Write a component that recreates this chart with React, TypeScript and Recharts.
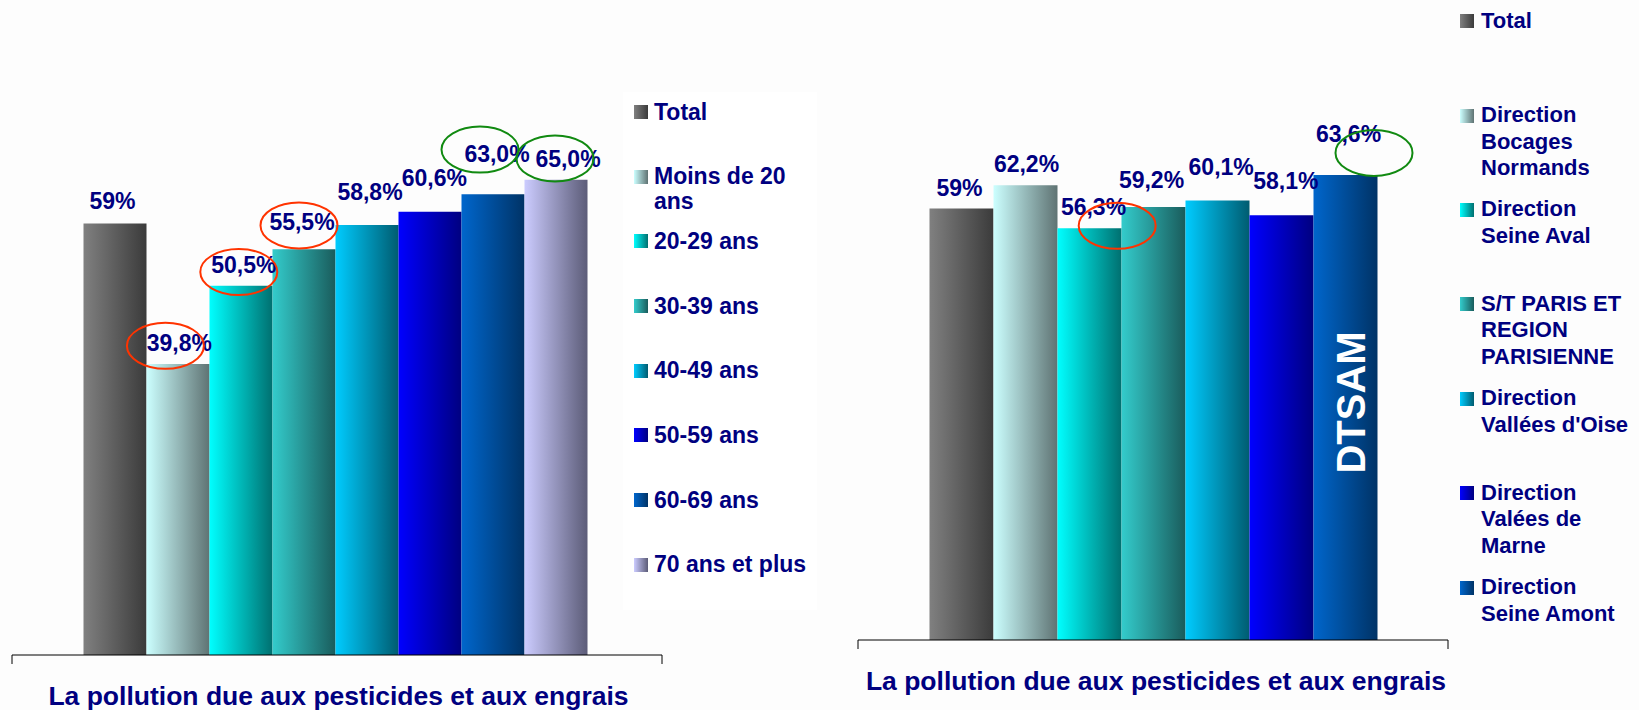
import React from "react";
import { BarChart, Bar, XAxis, YAxis, Legend, LabelList } from "recharts";

const CATEGORY = "La pollution due aux pesticides et aux engrais";

const ageGroups = [
  "Total",
  "Moins de 20 ans",
  "20-29 ans",
  "30-39 ans",
  "40-49 ans",
  "50-59 ans",
  "60-69 ans",
  "70 ans et plus",
];
const ageValues = [59, 39.8, 50.5, 55.5, 58.8, 60.6, 63.0, 65.0];
const ageLabels = ["59%", "39,8%", "50,5%", "55,5%", "58,8%", "60,6%", "63,0%", "65,0%"];

const directions = [
  "Total",
  "Direction Bocages Normands",
  "Direction Seine Aval",
  "S/T PARIS ET REGION PARISIENNE",
  "Direction Vallées d'Oise",
  "Direction Valées de Marne",
  "Direction Seine Amont",
];
const directionValues = [59, 62.2, 56.3, 59.2, 60.1, 58.1, 63.6];
const directionLabels = ["59%", "62,2%", "56,3%", "59,2%", "60,1%", "58,1%", "63,6%"];

const NAVY = "#000080";
const FONT = "'Liberation Sans', Arial, Helvetica, sans-serif";
const RED = "#ff3300";
const GREEN = "#118a11";

// light (left) -> dark (right) for each series
const gradients = [
  ["#808080", "#3b3b3b"],
  ["#ccffff", "#5f7373"],
  ["#00ffff", "#007070"],
  ["#33cccc", "#1a5c5c"],
  ["#00ccff", "#005c70"],
  ["#0000ff", "#000080"],
  ["#0066cc", "#003366"],
  ["#ccccff", "#5c5c78"],
];

type Ring = { color: string; dx: number; dy: number } | null;

interface PanelCfg {
  id: string;
  names: string[];
  values: number[];
  labels: string[];
  left: number;
  width: number;
  margin: { top: number; right: number; bottom: number; left: number };
  gap: number;
  labelDx: number[];
  labelLift: number[];
  rings: Ring[];
  titleDx: number;
  inside?: { index: number; text: string };
  legend: {
    left: number;
    top: number;
    width: number;
    height: number;
    background: string;
    padLeft: number;
    padTop: number;
    itemH: number;
    font: number;
    lineH: number;
    textW: number;
    squareTop: number;
    gapText: number;
  };
}

const HEIGHT = 710;
const AXIS_H = 50;
const DOMAIN_MAX = 80;
const LABEL_FONT = 23;
const TITLE_FONT = 26.5;
const RING_RX = 38.5;
const RING_RY = 23;

const leftPanel: PanelCfg = {
  id: "age",
  names: ageGroups,
  values: ageValues,
  labels: ageLabels,
  left: 0,
  width: 840,
  margin: { top: 70, right: 178, bottom: 5, left: 12 },
  gap: 71.5,
  labelDx: [-2.6, 1.4, 2.8, -2, 3, 4.4, 4, 12],
  labelLift: [14.3, 12.7, 12.7, 18.7, 25.3, 25.7, 32.7, 12.7],
  rings: [
    null,
    { color: RED, dx: -14, dy: -5.5 },
    { color: RED, dx: -5, dy: -1 },
    { color: RED, dx: -3, dy: -5 },
    null,
    null,
    { color: GREEN, dx: -17, dy: -12 },
    { color: GREEN, dx: -13, dy: -8.6 },
  ],
  titleDx: 1.5,
  legend: {
    left: 623,
    top: 92,
    width: 194,
    height: 518,
    background: "#ffffff",
    padLeft: 11,
    padTop: 7.5,
    itemH: 64.7,
    font: 23,
    lineH: 25,
    textW: 160,
    squareTop: 5.5,
    gapText: 6,
  },
};

const rightPanel: PanelCfg = {
  id: "dir",
  names: directions,
  values: directionValues,
  labels: directionLabels,
  left: 840,
  width: 799,
  margin: { top: 55, right: 191, bottom: 20, left: 18 },
  gap: 71.5,
  labelDx: [-2, 1, 4, -2, 3.7, 4.3, 3],
  labelLift: [13, 12.7, 13, 18.7, 25.3, 26, 33.3],
  rings: [
    null,
    null,
    { color: RED, dx: 23.7, dy: 10.5 },
    null,
    null,
    null,
    { color: GREEN, dx: 25.5, dy: 11.3 },
  ],
  titleDx: 3,
  inside: { index: 6, text: "DTSAM" },
  legend: {
    left: 620,
    top: 7.7,
    width: 179,
    height: 690,
    background: "transparent",
    padLeft: 0,
    padTop: 0,
    itemH: 94.4,
    font: 22,
    lineH: 26.6,
    textW: 154,
    squareTop: 6.6,
    gapText: 7,
  },
};

function LegendBox({ cfg }: { cfg: PanelCfg }) {
  const l = cfg.legend;
  return (
    <div
      style={{
        paddingLeft: l.padLeft,
        paddingTop: l.padTop,
        fontFamily: FONT,
        fontWeight: "bold",
        color: NAVY,
      }}
    >
      {cfg.names.map((n, i) => (
        <div key={n} style={{ display: "flex", alignItems: "flex-start", height: l.itemH }}>
          <span
            style={{
              flex: "none",
              width: 14,
              height: 14,
              marginTop: l.squareTop,
              background: `linear-gradient(to right, ${gradients[i][0]}, ${gradients[i][1]})`,
            }}
          />
          <span
            style={{
              marginLeft: l.gapText,
              width: l.textW,
              fontSize: l.font,
              lineHeight: `${l.lineH}px`,
            }}
          >
            {n}
          </span>
        </div>
      ))}
    </div>
  );
}

function Panel({ cfg }: { cfg: PanelCfg }) {
  const row: Record<string, string | number> = { name: CATEGORY };
  cfg.values.forEach((v, i) => {
    row[`s${i}`] = v;
  });
  const data = [row];

  const plotLeft = cfg.margin.left;
  const plotRight = cfg.width - cfg.margin.right;
  const axisY = HEIGHT - cfg.margin.bottom - AXIS_H;

  const renderLabel = (i: number) => (props: any) => {
    const vb = props.viewBox ?? props;
    const cx = vb.x + vb.width / 2 + cfg.labelDx[i];
    const base = vb.y - cfg.labelLift[i];
    const ring = cfg.rings[i];
    const inside = cfg.inside && cfg.inside.index === i ? cfg.inside : null;
    return (
      <g>
        <text
          x={cx}
          y={base}
          textAnchor="middle"
          fontFamily={FONT}
          fontWeight="bold"
          fontSize={LABEL_FONT}
          fill={NAVY}
        >
          {cfg.labels[i]}
        </text>
        {ring && (
          <ellipse
            cx={cx + ring.dx}
            cy={base + ring.dy}
            rx={RING_RX}
            ry={RING_RY}
            fill="none"
            stroke={ring.color}
            strokeWidth={2}
          />
        )}
        {inside && (
          <text
            transform={`translate(${vb.x + vb.width / 2 + 5},${vb.y + vb.height / 2 - 5}) rotate(-90)`}
            textAnchor="middle"
            dominantBaseline="central"
            fontFamily={FONT}
            fontWeight="bold"
            fontSize={40}
            fill="#ffffff"
          >
            {inside.text}
          </text>
        )}
      </g>
    );
  };

  const CategoryTick = (props: any) => (
    <g>
      <line x1={plotLeft} x2={plotLeft} y1={axisY} y2={axisY + 9} stroke="#000" strokeWidth={1} />
      <line x1={plotRight} x2={plotRight} y1={axisY} y2={axisY + 9} stroke="#000" strokeWidth={1} />
      <text
        x={props.x + cfg.titleDx}
        y={axisY + 49.5}
        textAnchor="middle"
        fontFamily={FONT}
        fontWeight="bold"
        fontSize={TITLE_FONT}
        fill={NAVY}
      >
        {props.payload.value}
      </text>
    </g>
  );

  return (
    <div style={{ position: "absolute", left: cfg.left, top: 0 }}>
      <BarChart
        width={cfg.width}
        height={HEIGHT}
        data={data}
        margin={cfg.margin}
        barCategoryGap={cfg.gap}
        barGap={0}
      >
        <defs>
          {gradients.map((g, i) => (
            <linearGradient key={i} id={`${cfg.id}-g${i}`} x1="0" y1="0" x2="1" y2="0">
              <stop offset="0%" stopColor={g[0]} />
              <stop offset="100%" stopColor={g[1]} />
            </linearGradient>
          ))}
        </defs>
        <XAxis
          dataKey="name"
          height={AXIS_H}
          axisLine={{ stroke: "#000", strokeWidth: 1 }}
          tickLine={false}
          interval={0}
          tick={CategoryTick}
        />
        <YAxis hide domain={[0, DOMAIN_MAX]} />
        <Legend
          layout="vertical"
          align="center"
          verticalAlign="middle"
          wrapperStyle={{
            left: cfg.legend.left,
            top: cfg.legend.top,
            width: cfg.legend.width,
            height: cfg.legend.height,
            background: cfg.legend.background,
          }}
          content={() => <LegendBox cfg={cfg} />}
        />
        {cfg.names.map((n, i) => (
          <Bar
            key={n}
            dataKey={`s${i}`}
            name={n}
            fill={`url(#${cfg.id}-g${i})`}
            isAnimationActive={false}
          >
            <LabelList dataKey={`s${i}`} content={renderLabel(i)} />
          </Bar>
        ))}
      </BarChart>
    </div>
  );
}

export default function App() {
  return (
    <div
      style={{
        position: "absolute",
        left: 0,
        top: 0,
        width: 1639,
        height: HEIGHT,
        background: "#fdfdfd",
        overflow: "hidden",
      }}
    >
      <Panel cfg={leftPanel} />
      <Panel cfg={rightPanel} />
    </div>
  );
}
